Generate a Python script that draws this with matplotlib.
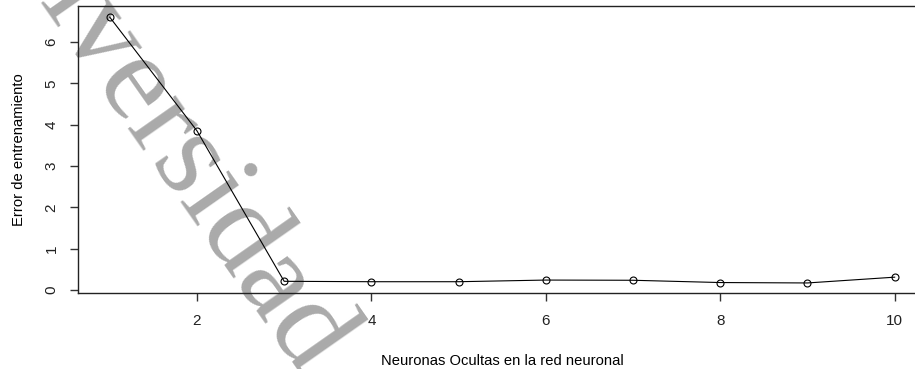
import matplotlib
matplotlib.use("Agg")
import matplotlib.pyplot as plt

# neuronas ocultas vs error de entrenamiento
neuronas = [1, 2, 3, 4, 5, 6, 7, 8, 9, 10]
error = [6.60, 3.85, 0.21, 0.20, 0.20, 0.24, 0.235, 0.18, 0.17, 0.31]
xticks = [2, 4, 6, 8, 10]
yticks = [0, 1, 2, 3, 4, 5, 6]

plt.rcParams['font.family'] = ['Liberation Sans', 'DejaVu Sans']

W, H = 915, 369
fig = plt.figure(figsize=(W / 100, H / 100), dpi=100)
ax = fig.add_axes([78 / W, 1 - 293 / H, (926.4 - 78) / W, (293 - 6) / H])
ax.patch.set_alpha(0)

# marca de agua
fig.text(-0.0541, 1.3374, 'Universidad de Cuenca', rotation=-55,
         rotation_mode='anchor', ha='left', va='baseline', fontsize=90,
         family='Liberation Serif', color='#aaaaaa', zorder=-1)

ax.plot(neuronas, error, color='black', lw=0.8, marker='o', ms=5,
        mfc='none', mec='black', mew=0.8)

ax.set_xlim(0.636, 10.364)
ax.set_ylim(-0.073, 6.87)
ax.set_xticks(xticks)
ax.set_yticks(yticks)
ax.tick_params(axis='both', direction='out', length=6, width=1,
               color='#333333', labelcolor='#222222', labelsize=11)
ax.tick_params(axis='x', pad=9)
ax.tick_params(axis='y', pad=8)
for lab in ax.get_yticklabels():
    lab.set_rotation(90)
    lab.set_va('center')
for sp in ax.spines.values():
    sp.set_color('#222222')
    sp.set_linewidth(1)

ax.set_xlabel('Neuronas Ocultas en la red neuronal', fontsize=10.6,
              labelpad=19)
fig.text(19 / W, 1 - 150 / H, 'Error de entrenamiento', rotation=90,
         ha='center', va='center', fontsize=10.6)

fig.savefig('out.png', dpi=100)
